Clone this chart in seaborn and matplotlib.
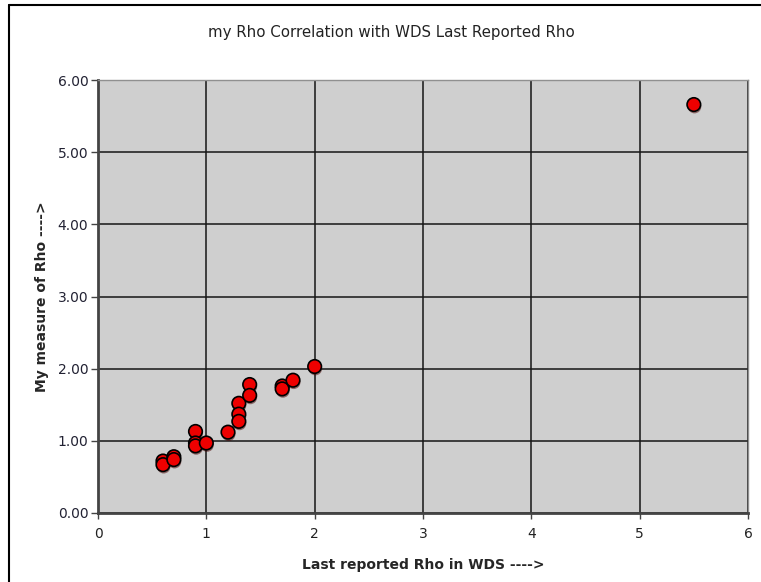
import matplotlib
matplotlib.use('Agg')
import matplotlib.pyplot as plt
import matplotlib.patheffects as pe
from matplotlib.lines import Line2D
import seaborn as sns
import pandas as pd

# values
wds_rho = [0.6, 0.6, 0.7, 0.7, 0.9, 0.9, 0.9, 1.0, 1.2, 1.3, 1.3, 1.3, 1.4, 1.4, 1.7, 1.7, 1.8, 2.0, 5.5]
my_rho = [0.72, 0.67, 0.78, 0.74, 1.13, 0.97, 0.93, 0.97, 1.12, 1.52, 1.37, 1.27, 1.78, 1.63, 1.76, 1.72, 1.84, 2.03, 5.66]
x_ticks = [0, 1, 2, 3, 4, 5, 6]
y_ticks = [0, 1, 2, 3, 4, 5, 6]

df = pd.DataFrame({'wds': wds_rho, 'mine': my_rho})

sns.set_style('white')
plt.rcParams['font.family'] = ['DejaVu Sans']

fig = plt.figure(figsize=(7.61, 5.82), dpi=100)
ax = fig.add_axes([98 / 761, 69 / 582, 650 / 761, 433 / 582])
ax.set_facecolor('#cfcfcf')

sns.scatterplot(data=df, x='wds', y='mine', ax=ax, s=95, color='#ee0000',
                edgecolor='black', linewidth=1.2, zorder=3,
                path_effects=[pe.SimplePatchShadow(offset=(0.5, -1.5), alpha=0.5), pe.Normal()])

ax.set_xlim(0, 6)
ax.set_ylim(0, 6)
ax.set_xticks(x_ticks)
ax.set_xticklabels([str(t) for t in x_ticks])
ax.set_yticks(y_ticks)
ax.set_yticklabels([f'{t:.2f}' for t in y_ticks])
ax.grid(True, color='#151515', linewidth=1.1)
ax.set_axisbelow(True)

for side in ['top', 'right']:
    ax.spines[side].set_color('#909090')
    ax.spines[side].set_linewidth(1.0)
for side in ['left', 'bottom']:
    ax.spines[side].set_color('#444444')
    ax.spines[side].set_linewidth(2.0)

ax.tick_params(axis='y', direction='out', length=5, width=1, color='#444444',
               labelsize=10, labelcolor='#222233', pad=2, left=True)
ax.tick_params(axis='x', direction='out', length=4, width=1, color='#444444',
               labelsize=10, labelcolor='#222222', pad=6, bottom=True)

ax.set_xlabel('Last reported Rho in WDS ---->', fontsize=10, fontweight='bold', labelpad=12)
ax.set_ylabel('My measure of Rho ---->', fontsize=10, fontweight='bold', labelpad=6)

fig.text(391 / 761, 1 - 32 / 582, 'my Rho Correlation with WDS Last Reported Rho',
         ha='center', va='center', fontsize=10.8, color='#222222')

# frame lines at top and left of the picture
fig.add_artist(Line2D([9 / 761, 1], [1 - 5 / 582, 1 - 5 / 582], color='black', linewidth=1.5,
                      transform=fig.transFigure))
fig.add_artist(Line2D([9 / 761, 9 / 761], [0, 1 - 5 / 582], color='black', linewidth=1.5,
                      transform=fig.transFigure))

fig.savefig('out.png', dpi=100)
